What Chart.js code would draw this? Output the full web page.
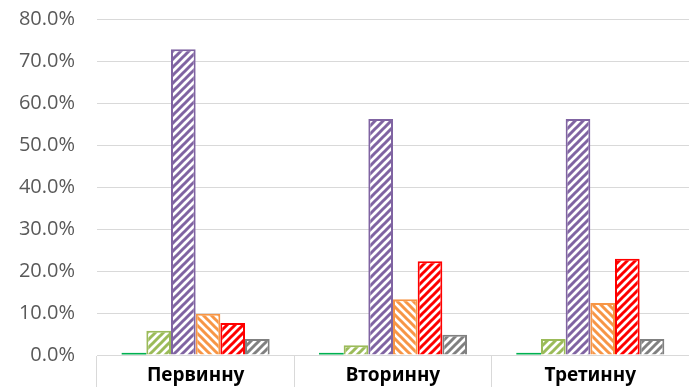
<!DOCTYPE html>
<html>
<head>
<meta charset="utf-8">
<script src="https://cdn.jsdelivr.net/npm/chart.js@4"></script>
<style>
  html, body { margin: 0; padding: 0; background: #fff; }
  #wrap { width: 689px; height: 387px; }
</style>
</head>
<body>
<div id="wrap"><canvas id="chart"></canvas></div>
<script>
const categories = ['Первинну', 'Вторинну', 'Третинну'];
const series1 = [0.5, 0.5, 0.5];
const series2 = [5.8, 2.3, 3.8];
const series3 = [72.8, 56.2, 56.2];
const series4 = [9.8, 13.3, 12.4];
const series5 = [7.6, 22.3, 22.9];
const series6 = [3.8, 4.8, 3.8];

// diagonal hatch fill, like Excel's wide upward / downward diagonal
function hatch(color, backward) {
    const c = document.createElement('canvas');
    c.width = 8;
    c.height = 8;
    const g = c.getContext('2d');
    g.fillStyle = '#fff';
    g.fillRect(0, 0, 8, 8);
    g.strokeStyle = color;
    g.lineWidth = 3;
    g.beginPath();
    if (backward) {
        g.moveTo(-2, -2); g.lineTo(10, 10);
        g.moveTo(-2, 6); g.lineTo(2, 10);
        g.moveTo(6, -2); g.lineTo(10, 2);
    } else {
        g.moveTo(-2, 10); g.lineTo(10, -2);
        g.moveTo(-2, 2); g.lineTo(2, -2);
        g.moveTo(6, 10); g.lineTo(10, 6);
    }
    g.stroke();
    return g.createPattern(c, 'repeat');
}

function ds(data, color, backward, solid) {
    return {
        data: data,
        backgroundColor: solid ? color : hatch(color, backward),
        borderColor: color,
        borderWidth: solid ? 0 : 2
    };
}

new Chart(document.getElementById('chart'), {
    type: 'bar',
    data: {
        labels: categories,
        datasets: [
            ds(series1, '#00B050', false, true),
            ds(series2, '#9BBB59', false),
            ds(series3, '#8064A2', false),
            ds(series4, '#F79646', true),
            ds(series5, '#FF0000', false),
            ds(series6, '#808080', false)
        ]
    },
    options: {
        responsive: true,
        maintainAspectRatio: false,
        animation: false,
        layout: { padding: 0 },
        plugins: {
            legend: { display: false },
            tooltip: { enabled: false }
        },
        datasets: {
            bar: { categoryPercentage: 0.75, barPercentage: 1.0 }
        },
        scales: {
            x: {
                grid: {
                    offset: true,
                    drawOnChartArea: false,
                    color: '#d9d9d9',
                    tickLength: 32,
                    lineWidth: 1
                },
                border: { color: '#d9d9d9' },
                ticks: {
                    color: '#000',
                    padding: -23,
                    font: { family: 'Noto Sans', size: 19, weight: 'bold' }
                },
                afterFit: function(scale) { scale.height = 32; }
            },
            y: {
                min: 0,
                max: 80,
                ticks: {
                    stepSize: 10,
                    color: '#595959',
                    padding: 7,
                    font: { family: 'Open Sans', size: 20 },
                    callback: function(v) { return v.toFixed(1) + '%'; }
                },
                grid: { color: '#d9d9d9', tickColor: 'rgba(0,0,0,0)', tickLength: 15 },
                border: { display: false },
                afterFit: function(scale) { scale.width = 97; }
            }
        }
    }
});
</script>
</body>
</html>
